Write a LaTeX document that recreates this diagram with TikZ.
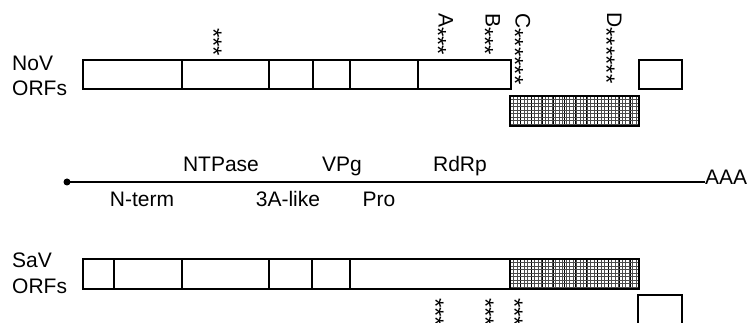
\documentclass[tikz,border=0pt]{standalone}
\usepackage{fontspec}
\setmainfont{Liberation Sans}
\usetikzlibrary{positioning}
\tikzset{
    orfbox/.style={draw=black, line width=2.5pt},
    divider/.style={draw=black, line width=1.2pt},
    meshline/.style={black!70, line width=0.5pt},
    genome/.style={line width=2.5pt},
    lab/.style={inner sep=0pt, font=\fontsize{21}{25}\selectfont},
    motif/.style={lab, rotate=-90, anchor=base west},
}
\newcommand{\st}{\raisebox{-9pt}{\fontsize{24}{24}\selectfont*}}

\begin{document}
\begin{tikzpicture}[x=1pt,y=-1pt]
    \useasboundingbox (0,0) rectangle (755,323);
    \clip (0,0) rectangle (755,323);
    % Row labels
    \node[lab, anchor=base west] (novname) at (12,71) {NoV};
    \node[lab, anchor=base west] (novorf) at (12,96) {ORFs};
    \node[lab, anchor=base west] (savname) at (12,267) {SaV};
    \node[lab, anchor=base west] (savorf) at (12,293) {ORFs};
    % Hatched ORF2 (NoV below, SaV in frame)
    \foreach \t in {96,259} {
        \foreach \x in {513.5,517,...,638} \draw[meshline] (\x,\t) -- (\x,\t+30);
        \foreach \x in {520,531,...,638} \draw[black, line width=0.9pt] (\x,\t) -- (\x,\t+30);
        \foreach \y in {3.5,7,...,29} \draw[meshline] (510,\t+\y) -- (639,\t+\y);
    }
    % NoV ORFs
    \draw[orfbox] (83,60) rectangle (511,89);
    \foreach \x in {182,269,313,350,418} \draw[divider] (\x,60) -- (\x,89);
    \draw[orfbox] (510,96) rectangle (639,126);
    \draw[orfbox] (639,60) rectangle (682,89);
    % SaV ORFs
    \draw[orfbox] (83,259) rectangle (639,289);
    \foreach \x in {114,182,269,312,350} \draw[divider] (\x,259) -- (\x,289);
    \draw[orfbox] (510,259) -- (510,289);
    \draw[orfbox] (638,295) rectangle (682,330);
    % Genome
    \node[circle, fill=black, inner sep=0pt, minimum size=7pt] (cap) at (67,182) {};
    \node[lab, anchor=base west] (polyA) at (705,185) {AAA};
    \draw[genome] (cap.center) -- (cap.center -| polyA.west);
    \node[lab, anchor=base] (ntpase) at (221,172) {NTPase};
    \node[lab, anchor=base] (vpg) at (342,172) {VPg};
    \node[lab, anchor=base] (rdrp) at (460,172) {RdRp};
    \node[lab, anchor=base] (nterm) at (142,207) {N-term};
    \node[lab, anchor=base] (threeA) at (288,207) {3A-like};
    \node[lab, anchor=base] (pro) at (379,207) {Pro};
    % Motifs
    \node[motif] (mnt) at (214,28) {\st\st\st};
    \node[motif] (mA) at (438.5,13) {A\st\st\st};
    \node[motif] (mB) at (485.5,13) {B\st\st\st};
    \node[motif] (mC) at (515.5,13) {C\st\st\st\st\st\st};
    \node[motif] (mD) at (607,12) {D\st\st\st\st\st\st};
    \node[motif] (sA) at (436,298) {\st\st\st};
    \node[motif] (sB) at (486,298) {\st\st\st};
    \node[motif] (sC) at (515,298) {\st\st\st};
\end{tikzpicture}
\end{document}
